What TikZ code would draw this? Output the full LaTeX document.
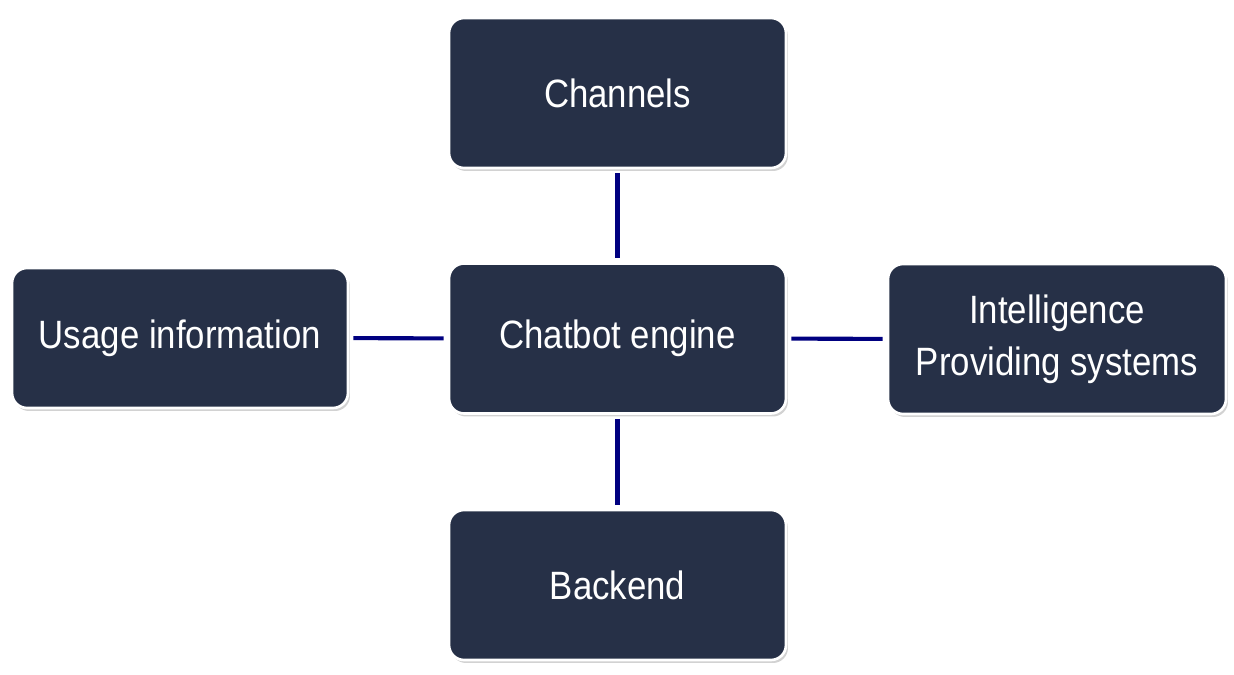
\documentclass[tikz,border=0pt]{standalone}
\usepackage{fontspec}
\setmainfont{Liberation Sans}
\newfontfamily\blockfont[FakeStretch=0.88]{Liberation Sans}
\usetikzlibrary{shadows}
\definecolor{boxnavy}{HTML}{263047}
\definecolor{linknavy}{HTML}{000080}
\begin{document}
\begin{tikzpicture}[x=0.02cm,y=0.02cm,
    block/.style={draw=white, line width=1.5pt, fill=boxnavy, rounded corners=0.3cm,
      text=white, align=center, font=\blockfont\fontsize{22.5}{29.5}\selectfont,
      minimum width=6.74cm, minimum height=3cm, inner sep=0pt,
      drop shadow={opacity=0.35, shadow xshift=0.04cm, shadow yshift=-0.06cm}},
    link/.style={draw=linknavy, line width=2.3pt, shorten <=0.08cm, shorten >=0.08cm}]
  \useasboundingbox[fill=white] (0,0) rectangle (1234,674);

  \node[block] (engine) at (617.5,335.5) {Chatbot engine};
  \node[block] (channels) at (617.5,581) {Channels};
  \node[block] (backend) at (617.5,89) {Backend};
  \node[block, minimum width=6.72cm, minimum height=2.8cm] (usage) at (180,336) {Usage information};
  \node[block, minimum width=6.76cm] (intel) at (1057,335) {Intelligence\\Providing systems};

  \draw[link] (channels) -- (engine);
  \draw[link] (engine) -- (backend);
  \draw[link] (usage) -- (engine);
  \draw[link] (engine) -- (intel);
\end{tikzpicture}
\end{document}
